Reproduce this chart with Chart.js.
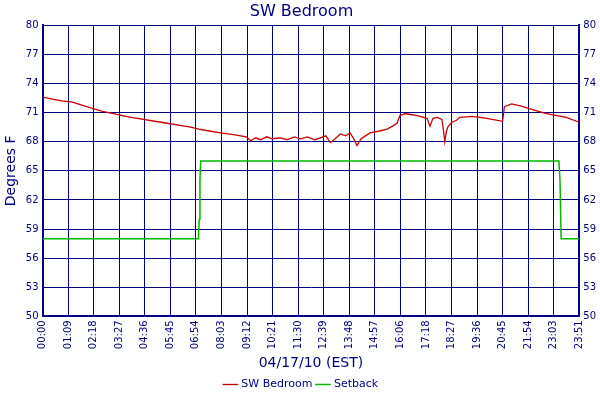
<!DOCTYPE html>
<html><head><meta charset="utf-8">
<script src="https://cdn.jsdelivr.net/npm/chart.js@4"></script>
<style>html,body{margin:0;background:#fff}#c{width:600px;height:400px}</style>
</head><body><div id="c"><canvas id="cv" width="600" height="400"></canvas></div>
<script>
const tickLabels = ["00:00","01:09","02:18","03:27","04:36","05:45","06:54","08:03","09:12","10:21","11:30","12:39","13:48","14:57","16:06","17:18","18:27","19:36","20:45","21:54","23:03","23:51"];
const yTicks = [50,53,56,59,62,65,68,71,74,77,80];
// minutes since midnight (axis spacing 69 min per tick)
const bedMinutes = [0,51,78,159,239,320,400,422,450,481,500,520,535,550,562,575,589,605,620,642,660,680,696,715,735,750,765,777,790,804,818,830,840,849,860,872,884,897,911,930,945,957,965,980,992,1010,1038,1046,1054,1066,1078,1082,1086,1090,1094,1105,1118,1126,1160,1199,1242,1247,1266,1290,1314,1360,1414,1449];
const bedTemps   = [72.6,72.2,72.1,71.15,70.5,70.0,69.5,69.3,69.1,68.9,68.8,68.7,68.6,68.5,68.1,68.4,68.2,68.5,68.3,68.4,68.2,68.5,68.3,68.5,68.2,68.4,68.6,67.9,68.3,68.8,68.6,68.9,68.3,67.6,68.3,68.6,68.9,69.0,69.1,69.3,69.6,69.9,70.7,70.9,70.8,70.7,70.4,69.6,70.4,70.5,70.3,69.3,68.0,69.0,69.5,70.0,70.2,70.5,70.6,70.4,70.1,71.6,71.9,71.7,71.4,70.9,70.5,70.0];
const setMinutes = [0,421,423,425,427,1394,1397,1400,1449];
const setTemps   = [58,58,60,64,66,66,64,58,58];

const toXY = (xs, ys) => xs.map((x,i)=>({x:x, y:ys[i]}));
const navy = '#000080';
Chart.defaults.font.family = 'Verdana, "DejaVu Sans", sans-serif';
Chart.defaults.color = navy;
const yAxis = (pos) => ({
  type:'linear', position:pos, min:50, max:80,
  afterBuildTicks: a => { a.ticks = yTicks.map(v=>({value:v})); },
  grid:{color:navy, lineWidth:1, drawTicks:false, display: pos==='left'},
  border:{color:navy, width:2},
  ticks:{color:navy, font:{size:10}, padding:4},
  title: pos==='left' ? {display:true, text:'Degrees F', color:navy, font:{size:14}, padding:{top:0,bottom:2}} : {display:false}
});
new Chart(document.getElementById('cv'), {
  type:'line',
  data:{datasets:[
    {label:'SW Bedroom', data:toXY(bedMinutes,bedTemps), borderColor:'#cc0000', backgroundColor:'#cc0000', borderWidth:1.3, pointRadius:0, tension:0},
    {label:'Setback', data:toXY(setMinutes,setTemps), borderColor:'#00bb00', backgroundColor:'#00bb00', borderWidth:1.5, pointRadius:0, tension:0}
  ]},
  options:{
    responsive:false, animation:false,
    layout:{padding:{top:0,right:0,left:3,bottom:0}},
    plugins:{
      title:{display:true, text:'SW Bedroom', color:navy, font:{size:16, weight:'normal'}, padding:{top:2,bottom:4}},
      legend:{position:'bottom', labels:{color:navy, font:{size:11}, usePointStyle:true, pointStyle:'line', boxWidth:18, padding:5}},
      tooltip:{enabled:false}
    },
    scales:{
      x:{type:'linear', min:0, max:1449,
        afterBuildTicks: a => { a.ticks = tickLabels.map((_,i)=>({value:i*69})); },
        grid:{color:navy, lineWidth:1, drawTicks:false},
        border:{color:navy, width:2},
        ticks:{color:navy, font:{size:10}, autoSkip:false, maxRotation:90, minRotation:90, padding:4,
          callback:(v)=>tickLabels[Math.round(v/69)]},
        title:{display:true, text:'04/17/10 (EST)', color:navy, font:{size:14}, padding:{top:2,bottom:2}}
      },
      y:yAxis('left'),
      y2:yAxis('right')
    }
  }
});
</script></body></html>
